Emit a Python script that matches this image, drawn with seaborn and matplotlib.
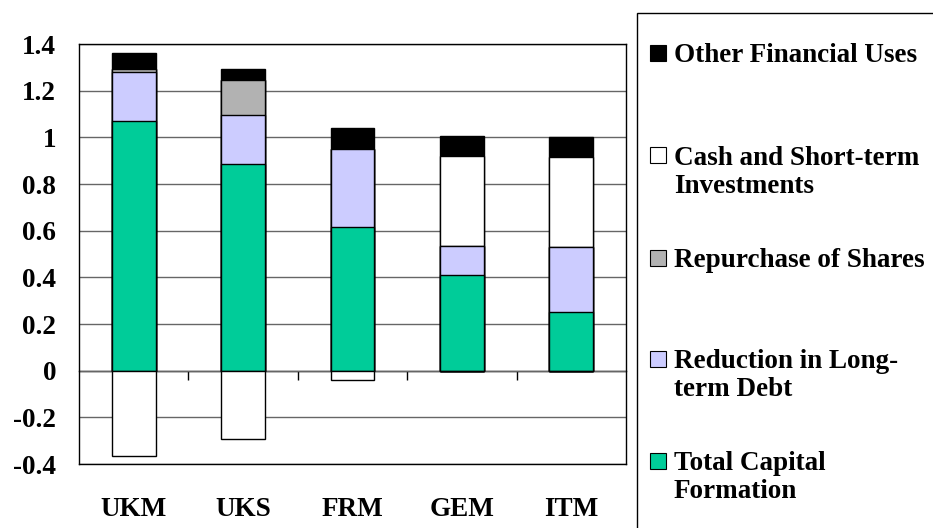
import matplotlib
matplotlib.use("Agg")
import matplotlib.pyplot as plt
from matplotlib.patches import Rectangle
import numpy as np
import pandas as pd
import seaborn as sns

# values
countries = ["UKM", "UKS", "FRM", "GEM", "ITM"]
capital_formation = [1.070, 0.887, 0.616, 0.411, 0.250]
debt_reduction = [0.209, 0.209, 0.334, 0.123, 0.279]
share_repurchase = [0.014, 0.148, 0.0, 0.0, 0.0]
cash_investments = [-0.366, -0.293, -0.039, 0.386, 0.386]
other_uses = [0.069, 0.050, 0.091, 0.084, 0.085]

series_names = [
    "Total Capital Formation",
    "Reduction in Long-term Debt",
    "Repurchase of Shares",
    "Cash and Short-term Investments",
    "Other Financial Uses",
]
legend_lines = [
    ["Total Capital", "Formation"],
    ["Reduction in Long-", "term Debt"],
    ["Repurchase of Shares"],
    ["Cash and Short-term", "Investments"],
    ["Other Financial Uses"],
]
series_colors = ["#00CC99", "#CCCCFF", "#B2B2B2", "#FFFFFF", "#000000"]
y_ticks = [-0.4, -0.2, 0.0, 0.2, 0.4, 0.6, 0.8, 1.0, 1.2, 1.4]

W, H = 933, 528
FONT_SIZE = 19.5


def build_frame():
    """
    Cumulative tops for the positive stack, plus the negative part.
    """

    cash = np.array(cash_investments)
    layers = [
        np.array(capital_formation),
        np.array(debt_reduction),
        np.array(share_repurchase),
        np.clip(cash, 0, None),
        np.array(other_uses),
    ]
    tops = np.cumsum(layers, axis=0)

    df = pd.DataFrame({"country": countries})
    for i, top in enumerate(tops):
        df[f"top{i}"] = top
    df["negative"] = np.clip(cash, None, 0)
    return df


sns.set_style("white")
plt.rcParams["font.family"] = ["Liberation Serif", "DejaVu Serif"]
plt.rcParams["font.weight"] = "bold"
plt.rcParams["text.color"] = "black"
plt.rcParams["xtick.color"] = "black"
plt.rcParams["ytick.color"] = "black"
plt.rcParams["axes.labelcolor"] = "black"

fig = plt.figure(figsize=(W / 100, H / 100), dpi=100)
ax = fig.add_axes([79 / W, 1 - 464 / H, (626 - 79) / W, (464 - 44) / H])

df = build_frame()

# draw tallest layer first so lower layers sit on top of it
for i in reversed(range(len(series_names))):
    sns.barplot(
        data=df, x="country", y=f"top{i}", order=countries,
        color=series_colors[i], saturation=1, width=0.4,
        edgecolor="black", linewidth=1, errorbar=None, ax=ax
    )

sns.barplot(
    data=df, x="country", y="negative", order=countries,
    color=series_colors[3], saturation=1, width=0.4,
    edgecolor="black", linewidth=1, errorbar=None, ax=ax
)

ax.set_xlim(-0.5, len(countries) - 0.5)
ax.set_ylim(y_ticks[0], y_ticks[-1])
ax.set_xlabel("")
ax.set_ylabel("")

ax.set_yticks(y_ticks)
ax.set_yticklabels([f"{v:g}" for v in np.round(y_ticks, 1)])
ax.tick_params(
    axis="y", direction="out", length=6.5, width=1,
    color="black", labelcolor="black", pad=10, labelsize=FONT_SIZE
)
ax.set_xticks(range(len(countries)))
ax.set_xticklabels(countries)
ax.tick_params(
    axis="x", length=0, pad=24, labelcolor="black", labelsize=FONT_SIZE
)

ax.yaxis.grid(True, color="#666666", linewidth=1)
ax.set_axisbelow(True)
for spine in ax.spines.values():
    spine.set_visible(True)
    spine.set_color("black")
    spine.set_linewidth(1)

# category axis sits at zero, with ticks between categories
zero_pos = (0 - y_ticks[0]) / (y_ticks[-1] - y_ticks[0])
sec = ax.secondary_xaxis(zero_pos)
sec.set_xticks(np.arange(0.5, len(countries) - 1, 1.0))
sec.set_xticklabels([])
sec.tick_params(direction="out", length=6.5, width=1, color="black")
sec.spines["bottom"].set_color("black")
sec.spines["bottom"].set_linewidth(1)

# legend box, drawn by hand to keep the uneven spacing of the original
fig.add_artist(Rectangle(
    (637 / W, -0.1), 1, (H - 13) / H + 0.1,
    transform=fig.transFigure, fill=False,
    edgecolor="black", linewidth=1, clip_on=False
))

first_baselines = [470, 368, 267, 165, 62]
line_gap = 28
marker = 16
for i in range(len(series_names)):
    base = first_baselines[i]
    centre = base - 9.5
    fig.add_artist(Rectangle(
        (650 / W, 1 - (centre + marker / 2) / H),
        marker / W, marker / H,
        transform=fig.transFigure, facecolor=series_colors[i],
        edgecolor="black", linewidth=0.8
    ))
    for j, line in enumerate(legend_lines[i]):
        fig.text(
            674 / W, 1 - (base + j * line_gap) / H, line,
            ha="left", va="baseline", color="black",
            fontsize=FONT_SIZE, fontweight="bold"
        )

fig.savefig("out.png", dpi=100)
plt.close(fig)
